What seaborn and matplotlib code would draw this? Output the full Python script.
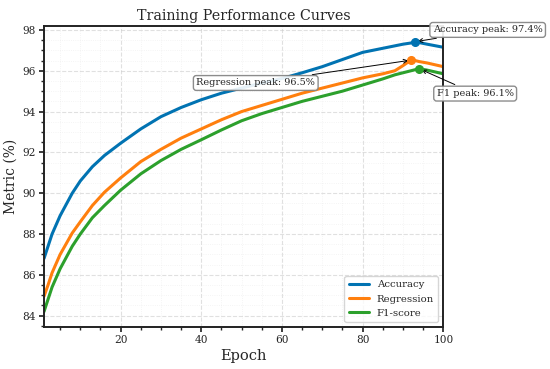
import numpy as np
import pandas as pd
import seaborn as sns
import matplotlib.pyplot as plt
from matplotlib.ticker import AutoMinorLocator

# values
epochs = [1, 2, 3, 5, 8, 10, 13, 16, 20, 25, 30, 35, 40, 45, 50, 55, 60,
          65, 70, 75, 80, 85, 88, 90, 92, 93, 94, 96, 100]
accuracy = [86.8, 87.4, 88.0, 88.9, 90.0, 90.6, 91.3, 91.85, 92.45, 93.15,
            93.75, 94.2, 94.58, 94.9, 95.15, 95.4, 95.62, 95.9, 96.2, 96.55,
            96.9, 97.1, 97.22, 97.3, 97.36, 97.42, 97.38, 97.3, 97.15]
regression = [84.95, 85.5, 86.1, 87.0, 88.05, 88.6, 89.4, 90.05, 90.75,
              91.55, 92.15, 92.7, 93.15, 93.6, 94.0, 94.3, 94.6, 94.9, 95.15,
              95.4, 95.65, 95.85, 96.0, 96.25, 96.52, 96.5, 96.45, 96.38, 96.2]
f1_score = [84.2, 84.8, 85.4, 86.3, 87.4, 88.0, 88.8, 89.4, 90.15, 90.95,
            91.6, 92.15, 92.62, 93.1, 93.55, 93.9, 94.2, 94.5, 94.75, 95.0,
            95.3, 95.6, 95.8, 95.9, 96.0, 96.05, 96.1, 96.03, 95.85]

series_names = ["Accuracy", "Regression", "F1-score"]
peak_names = ["Accuracy peak", "Regression peak", "F1 peak"]
colors = ["#0173b2", "#ff7f0e", "#2ca02c"]

df = pd.DataFrame({"Epoch": epochs, "Accuracy": accuracy,
                   "Regression": regression, "F1-score": f1_score})
long_df = df.melt(id_vars="Epoch", var_name="Metric", value_name="Value")

sns.set_theme(style="ticks")
plt.rcParams["font.family"] = ["DejaVu Serif"]

fig, ax = plt.subplots(figsize=(5.5, 3.69), dpi=100)
fig.subplots_adjust(left=0.08, right=0.806, bottom=0.114, top=0.93)

sns.lineplot(data=long_df, x="Epoch", y="Value", hue="Metric",
             palette=colors, linewidth=2.2, ax=ax)

# centres of the peak label boxes (data coords)
label_pos = [(111.0, 98.0), (53.5, 95.4), (107.9, 94.88)]

for name, pname, col, pos in zip(series_names, peak_names, colors, label_pos):
    i = int(np.argmax(df[name]))
    px, py = df["Epoch"][i], df[name][i]
    ax.plot(px, py, "o", color=col, markersize=5.5, zorder=5)
    ax.annotate(f"{pname}: {py:.1f}%", xy=(px, py), xytext=pos,
                ha="center", va="center", fontsize=7, annotation_clip=False,
                bbox=dict(boxstyle="round,pad=0.3", fc="white", ec="grey",
                          alpha=0.9),
                arrowprops=dict(arrowstyle="->", color="black", lw=0.7))

ax.set_xlim(1, 100)
ax.set_ylim(83.45, 98.2)
ax.set_yticks(range(84, 99, 2))
ax.set_xticks([20, 40, 60, 80, 100])
ax.xaxis.set_minor_locator(AutoMinorLocator())
ax.yaxis.set_minor_locator(AutoMinorLocator())
ax.grid(which="major", linestyle="--", color="#cccccc", alpha=0.6, lw=0.8)
ax.grid(which="minor", linestyle=":", color="#dddddd", alpha=0.4, lw=0.6)
ax.tick_params(which="major", labelsize=7.6, length=3.5, pad=2.5)
ax.tick_params(which="minor", length=2)
for s in ax.spines.values():
    s.set_color("#222222")
    s.set_linewidth(1.4)

ax.set_title("Training Performance Curves", fontsize=10.3, pad=4)
ax.set_xlabel("Epoch", fontsize=10.5, labelpad=3)
ax.set_ylabel("Metric (%)", fontsize=10, labelpad=3)
ax.legend(loc="lower right", fontsize=7.3, title=None, frameon=True,
          fancybox=True)

plt.savefig("out.png", dpi=100)
